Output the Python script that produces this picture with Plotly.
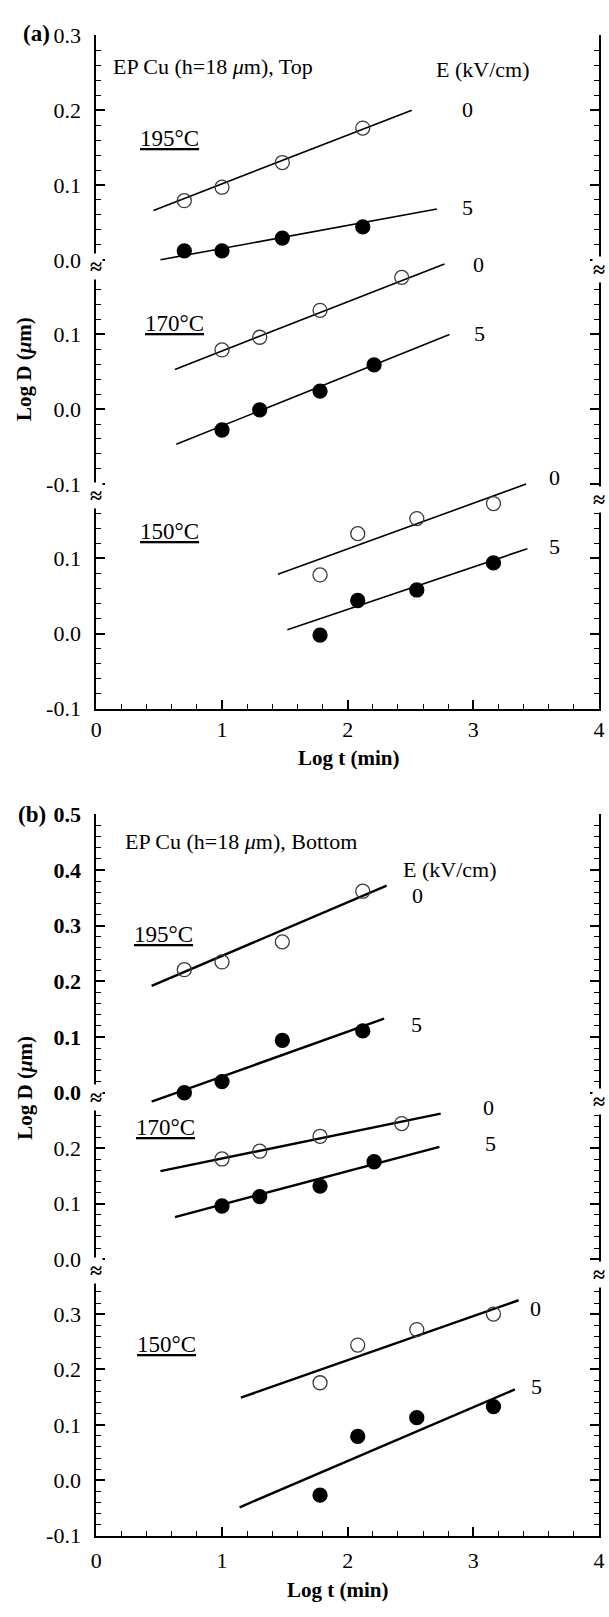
import plotly.graph_objects as go

W, H = 609, 1617
SERIF = "Liberation Serif"

# ---------------- data: (a) top surface ----------------
a195_t = [0.70, 1.00, 1.48, 2.12]
a195_d0 = [0.079, 0.097, 0.130, 0.176]
a195_d5 = [0.012, 0.012, 0.029, 0.044]
a195_fit0_t, a195_fit0_d = [0.455, 2.51], [0.066, 0.200]
a195_fit5_t, a195_fit5_d = [0.51, 2.71], [0.000, 0.068]

a170_t0 = [1.00, 1.30, 1.78, 2.43]
a170_d0 = [0.079, 0.096, 0.132, 0.176]
a170_t5 = [1.00, 1.30, 1.78, 2.21]
a170_d5 = [-0.028, -0.001, 0.024, 0.059]
a170_fit0_t, a170_fit0_d = [0.625, 2.77], [0.053, 0.194]
a170_fit5_t, a170_fit5_d = [0.636, 2.81], [-0.047, 0.0995]

a150_t = [1.78, 2.08, 2.55, 3.16]
a150_d0 = [0.078, 0.133, 0.153, 0.173]
a150_d5 = [-0.002, 0.044, 0.058, 0.094]
a150_fit0_t, a150_fit0_d = [1.445, 3.42], [0.079, 0.199]
a150_fit5_t, a150_fit5_d = [1.52, 3.43], [0.005, 0.113]

# ---------------- data: (b) bottom surface ----------------
b195_t = [0.70, 1.00, 1.48, 2.12]
b195_d0 = [0.221, 0.235, 0.271, 0.362]
b195_d5 = [0.000, 0.020, 0.094, 0.111]
b195_fit0_t, b195_fit0_d = [0.44, 2.31], [0.192, 0.372]
b195_fit5_t, b195_fit5_d = [0.44, 2.29], [-0.016, 0.133]

b170_t0 = [1.00, 1.30, 1.78, 2.43]
b170_d0 = [0.181, 0.195, 0.222, 0.245]
b170_t5 = [1.00, 1.30, 1.78, 2.21]
b170_d5 = [0.096, 0.113, 0.132, 0.176]
b170_fit0_t, b170_fit0_d = [0.51, 2.74], [0.159, 0.263]
b170_fit5_t, b170_fit5_d = [0.625, 2.73], [0.076, 0.203]

b150_t = [1.78, 2.08, 2.55, 3.16]
b150_d0 = [0.176, 0.244, 0.272, 0.300]
b150_d5 = [-0.027, 0.079, 0.113, 0.133]
b150_fit0_t, b150_fit0_d = [1.15, 3.36], [0.149, 0.325]
b150_fit5_t, b150_fit5_d = [1.14, 3.33], [-0.049, 0.164]

x_ticks = [0, 1, 2, 3, 4]
x_minor = [i * 0.2 for i in range(21) if i % 5]


def fx(p):
    return p / W


def fy(p):
    return 1 - p / H


fig = go.Figure()


def series(t, d, xa, ya, filled):
    fig.add_trace(go.Scatter(
        x=t, y=d, xaxis=xa, yaxis=ya, mode="markers", cliponaxis=False,
        marker=dict(size=14, symbol="circle" if filled else "circle-open",
                    color="black" if filled else "#3a3a3a",
                    line=dict(width=1.3, color="black" if filled else "#3a3a3a")),
        showlegend=False, hoverinfo="skip"))


def fit(t, d, xa, ya, w):
    fig.add_trace(go.Scatter(
        x=t, y=d, xaxis=xa, yaxis=ya, mode="lines",
        line=dict(color="black", width=w), showlegend=False, hoverinfo="skip"))


# panel (a)
for ya, t0, d0, t5, d5, f0, f5 in [
    ("y", a195_t, a195_d0, a195_t, a195_d5, (a195_fit0_t, a195_fit0_d), (a195_fit5_t, a195_fit5_d)),
    ("y2", a170_t0, a170_d0, a170_t5, a170_d5, (a170_fit0_t, a170_fit0_d), (a170_fit5_t, a170_fit5_d)),
    ("y3", a150_t, a150_d0, a150_t, a150_d5, (a150_fit0_t, a150_fit0_d), (a150_fit5_t, a150_fit5_d)),
]:
    fit(*f0, "x", ya, 1.6)
    fit(*f5, "x", ya, 1.6)
    series(t0, d0, "x", ya, False)
    series(t5, d5, "x", ya, True)

# panel (b)
for ya, t0, d0, t5, d5, f0, f5 in [
    ("y4", b195_t, b195_d0, b195_t, b195_d5, (b195_fit0_t, b195_fit0_d), (b195_fit5_t, b195_fit5_d)),
    ("y5", b170_t0, b170_d0, b170_t5, b170_d5, (b170_fit0_t, b170_fit0_d), (b170_fit5_t, b170_fit5_d)),
    ("y6", b150_t, b150_d0, b150_t, b150_d5, (b150_fit0_t, b150_fit0_d), (b150_fit5_t, b150_fit5_d)),
]:
    fit(*f0, "x3", ya, 2.4)
    fit(*f5, "x3", ya, 2.4)
    series(t0, d0, "x3", ya, False)
    series(t5, d5, "x3", ya, True)

XDOM = [fx(92), fx(604)]
TICKFONT = dict(family=SERIF, size=22, color="black")


def fmt(v):
    return "-0.1" if v < 0 else f"{v:.1f}"


def yax(top_px, bot_px, v_top, v_bot, major, minor_vals, anchor, bold=False):
    return dict(
        domain=[fy(bot_px), fy(top_px)], range=[v_bot, v_top], anchor=anchor,
        showline=True, linecolor="black", linewidth=2, mirror="ticks",
        ticks="inside", ticklen=9, tickwidth=1.5, tickcolor="black",
        tickvals=major, ticktext=[("<b>%s</b>" % fmt(v)) if bold else fmt(v) for v in major],
        ticklabelstandoff=9, ticklabeloverflow="allow",
        minor=dict(tickvals=minor_vals, ticks="inside", ticklen=5, tickwidth=1.3, tickcolor="black"),
        showgrid=False, zeroline=False, fixedrange=True, tickfont=TICKFONT)


def steps(lo, hi):
    n0, n1 = round(lo / 0.02), round(hi / 0.02)
    return [round(k * 0.02, 2) for k in range(n0, n1 + 1) if k % 5]


def xax(anchor, labels, standoff, side="bottom"):
    return dict(
        domain=XDOM, range=[0, 4.0005], anchor=anchor, side=side,
        showline=True, linecolor="black", linewidth=2,
        ticks="inside", ticklen=9, tickwidth=1.5, tickcolor="black",
        tickvals=x_ticks, showticklabels=labels, ticklabelstandoff=standoff,
        ticklabeloverflow="allow",
        minor=dict(tickvals=x_minor, ticks="inside", ticklen=5, tickwidth=1.3, tickcolor="black"),
        showgrid=False, zeroline=False, fixedrange=True, tickfont=TICKFONT)


layout_axes = dict(
    xaxis=xax("y3", True, 0),
    xaxis2=xax("y", False, 0, side="top"),
    xaxis3=xax("y6", True, 4),
    xaxis4=xax("y4", False, 0, side="top"),
    # (a): three stacked segments
    yaxis=yax(23.7, 258, 0.3, (251.7 - 258) / 760, [0, 0.1, 0.2, 0.3], steps(0, 0.3), "x"),
    yaxis2=yax(250, 490, (403.3 - 250) / 760, (403.3 - 490) / 760, [-0.1, 0, 0.1], steps(-0.1, 0.18), "x"),
    yaxis3=yax(472, 707.6, (631.3 - 472) / 763, -0.1, [-0.1, 0, 0.1], steps(-0.1, 0.18), "x"),
    # (b): three stacked segments
    yaxis4=yax(815, 1108, 0.5, (1097.7 - 1108) / 565.4, [0, 0.1, 0.2, 0.3, 0.4, 0.5], steps(0, 0.5), "x3", bold=True),
    yaxis5=yax(1104, 1280, (1266.7 - 1104) / 562, (1266.7 - 1280) / 562, [0, 0.1, 0.2], steps(0, 0.28), "x3"),
    yaxis6=yax(1280, 1547.5, (1491.3 - 1280) / 562.5, -0.1, [-0.1, 0, 0.1, 0.2, 0.3], steps(-0.1, 0.36), "x3"),
)

ann = []


def note(text, x, y, size=22, xanchor="center", angle=0, bg=None):
    d = dict(text=text, x=fx(x), y=fy(y), xref="paper", yref="paper",
             xanchor=xanchor, yanchor="middle", showarrow=False, textangle=angle,
             font=dict(family=SERIF, size=size, color="black"))
    if bg:
        d.update(bgcolor=bg, borderpad=0)
    ann.append(d)


# panel (a) texts
note("<b>(a)</b>", 31, 22, size=23)
note("EP Cu (h=18 <i>μ</i>m), Top", 107, 55, xanchor="left")
note("E (kV/cm)", 485, 58)
note("<u>195°C</u>", 166, 128, size=23)
note("<u>170°C</u>", 172, 316, size=23)
note("<u>150°C</u>", 167, 528, size=23)
for txt, x, y in [("0", 470, 99), ("5", 470, 199), ("0", 481, 256), ("5", 482, 327),
                  ("0", 559, 473), ("5", 559, 543)]:
    note(txt, x, y)
note("<b>Log D (<i>μ</i>m)</b>", 19, 363, size=21, angle=-90)
note("<b>Log t (min)</b>", 349, 758, size=21)

# panel (b) texts
note("<b>(b)</b>", 26, 815, size=23)
note("EP Cu (h=18 <i>μ</i>m), Bottom", 119, 843, xanchor="left")
note("E (kV/cm)", 452, 871)
note("<u>195°C</u>", 160, 937, size=23)
note("<u>170°C</u>", 162, 1133, size=23)
note("<u>150°C</u>", 163, 1353, size=23)
for txt, x, y in [("0", 419, 897), ("5", 418, 1028), ("0", 491, 1113), ("5", 493, 1149),
                  ("0", 539, 1317), ("5", 540, 1396)]:
    note(txt, x, y)
note("<b>Log D (<i>μ</i>m)</b>", 19, 1093, size=21, angle=-90)
note("<b>Log t (min)</b>", 338, 1603, size=21)

# axis-break marks on both frame sides
for yb in [258, 491, 1103, 1278]:
    note("<b>≈</b>", 92, yb, size=22, bg="white")
    note("<b>≈</b>", 604, yb + 4, size=22, bg="white")

fig.update_layout(
    width=W, height=H, margin=dict(l=0, r=0, t=0, b=0),
    font=dict(family=SERIF, color="black"),
    paper_bgcolor="white", plot_bgcolor="rgba(0,0,0,0)",
    showlegend=False, annotations=ann, **layout_axes)

fig.write_html("out.html")
